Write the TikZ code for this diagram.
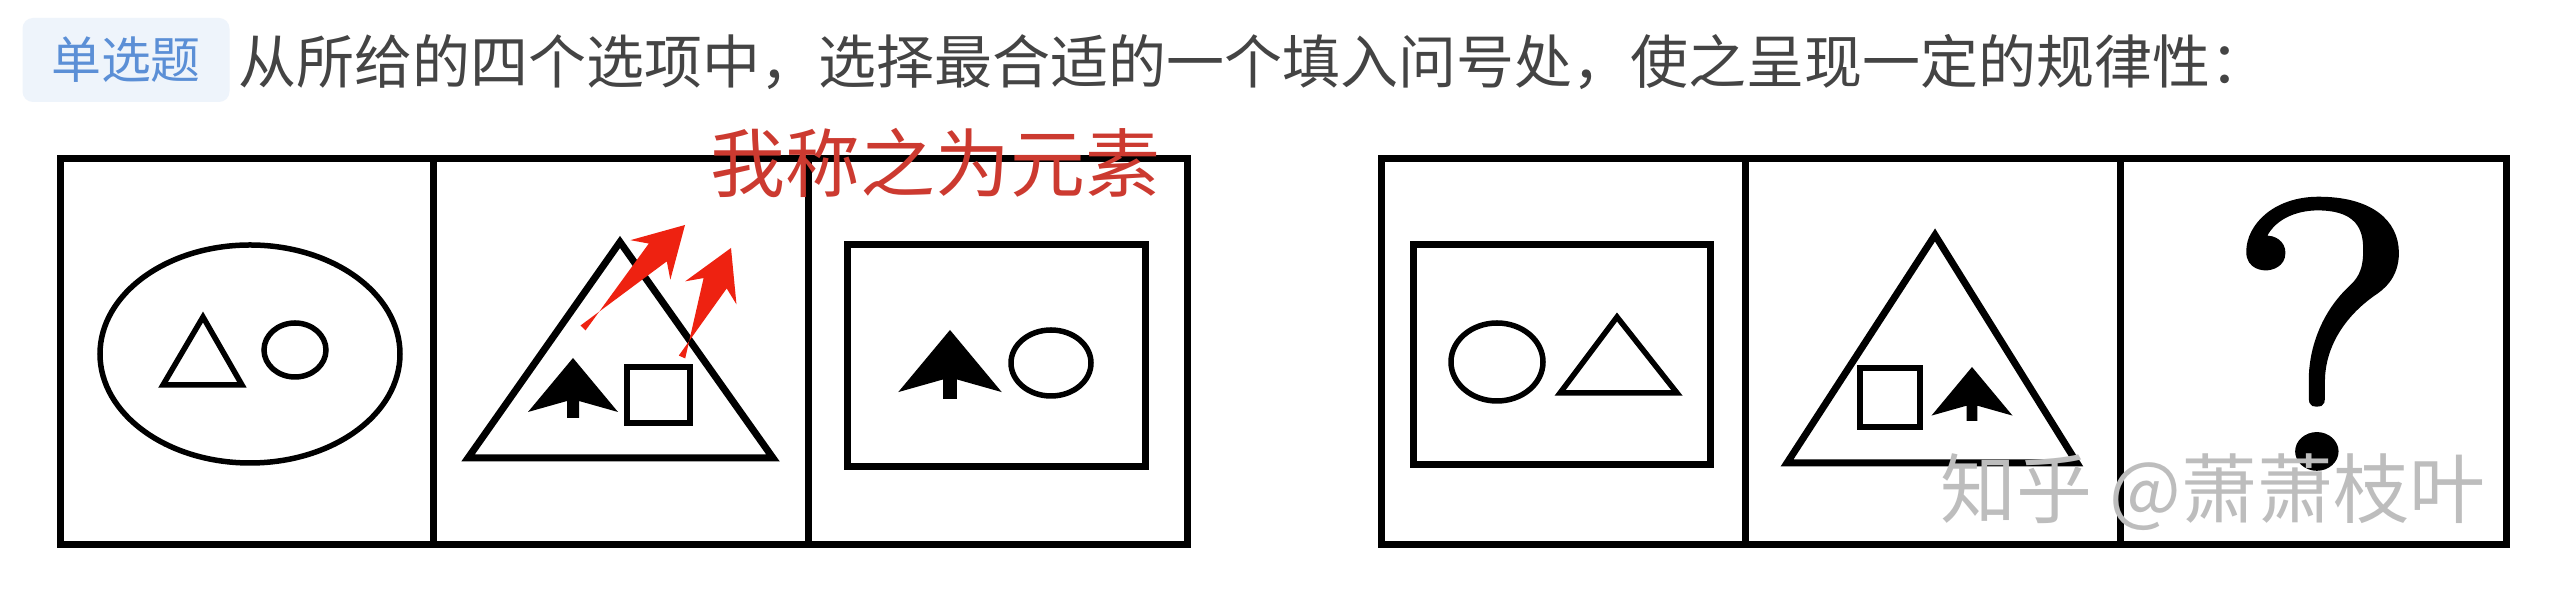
\documentclass[tikz,border=0pt]{standalone}
\usepackage{fontspec}
\usepackage{tikz}
\usetikzlibrary{calc}
\newfontfamily\cjk{Noto Sans CJK SC}
\newfontfamily\qfont[FakeBold=2]{Latin Modern Roman}
\definecolor{tagblue}{HTML}{5B8FD6}
\definecolor{tagfill}{HTML}{EEF4FB}
\definecolor{textgray}{HTML}{444444}
\definecolor{notered}{HTML}{CC3A30}
\definecolor{arrowred}{HTML}{EE2211}
\definecolor{markgray}{HTML}{BDBDBD}
\tikzset{
  frame/.style={line width=0.7mm},
  figline/.style={line width=0.55mm},
  spike/.pic={\fill (0,0) -- (45,54) -- (6,43) -- (6,60) -- (-6,60) -- (-6,43) -- (-45,54) -- cycle;}
}
\newcommand{\redarrow}[2]{%
  \fill[arrowred] ($(#1)!1pt!90:(#2)$) -- ($(#2)!11pt!(#1)!3.6pt!90:(#1)$) -- ($(#2)!14pt!(#1)!8pt!90:(#1)$) -- (#2)
    -- ($(#2)!14pt!(#1)!8pt!-90:(#1)$) -- ($(#2)!11pt!(#1)!3.6pt!-90:(#1)$) -- ($(#1)!1pt!-90:(#2)$) -- cycle;}

\begin{document}
\begin{tikzpicture}[x=0.1mm,y=-0.1mm]
\fill[white] (0,0) rectangle (2560,601);
\useasboundingbox (0,0) rectangle (2560,601);

% question line
\node[fill=tagfill,rounded corners=3pt,minimum width=20.7mm,minimum height=8.4mm,text=tagblue,font=\cjk\fontsize{14.2pt}{14.2pt}\selectfont] (kind) at (126,60) {单选题};
\node[anchor=base west,inner sep=0,text=textgray,font=\cjk\fontsize{16.5pt}{16.5pt}\selectfont] (question) at (238,84) {从所给的四个选项中，选择最合适的一个填入问号处，使之呈现一定的规律性：};

% left group
\draw[frame] (60,159) rectangle (1187,545);
\foreach \x in {433,808} \draw[frame] (\x,159) -- (\x,545);

\draw[figline] (250,354) ellipse [x radius=150, y radius=109];
\draw[figline] (203,317) -- (242,385) -- (163,385) -- cycle;
\draw[figline] (295,350) ellipse [x radius=31, y radius=27];

\draw[frame] (620,242) -- (773,458) -- (468,458) -- cycle;
\pic at (573,358) {spike};
\draw[figline] (627,367) rectangle (690,423);

\draw[frame] (847,245) rectangle (1145,467);
\pic[scale=1.15] at (950,330) {spike};
\draw[figline] (1051,363) ellipse [x radius=40, y radius=33];

% note
\node[anchor=base west,inner sep=0,text=notered,font=\cjk\fontsize{21.3pt}{21.3pt}\selectfont] (element) at (710,192) {我称之为元素};
\coordinate (tailA) at (583,328);
\coordinate (tipA) at (685,225);
\coordinate (tailB) at (682,357);
\coordinate (tipB) at (731,248);
\redarrow{tailA}{tipA}
\redarrow{tailB}{tipB}

% right group
\draw[frame] (1381,159) rectangle (2506,545);
\foreach \x in {1745,2120} \draw[frame] (\x,159) -- (\x,545);

\draw[frame] (1413,245) rectangle (1710,465);
\draw[figline] (1497,362) ellipse [x radius=46, y radius=39];
\draw[figline] (1617,317) -- (1677,393) -- (1560,393) -- cycle;

\draw[frame] (1935,235) -- (2077,463) -- (1787,463) -- cycle;
\draw[figline] (1860,368) rectangle (1920,427);
\pic[scale=0.9] at (1972,367) {spike};

\node[anchor=base,inner sep=0,font=\qfont\fontsize{108pt}{108pt}\selectfont] (blank) at (2323,467) {\scalebox{1.12}[1]{?}};

\node[anchor=base west,inner sep=0,text=markgray,font=\cjk\fontsize{21.6pt}{21.6pt}\selectfont] (mark) at (1940,518) {知乎 @萧萧枝叶};
\end{tikzpicture}
\end{document}
